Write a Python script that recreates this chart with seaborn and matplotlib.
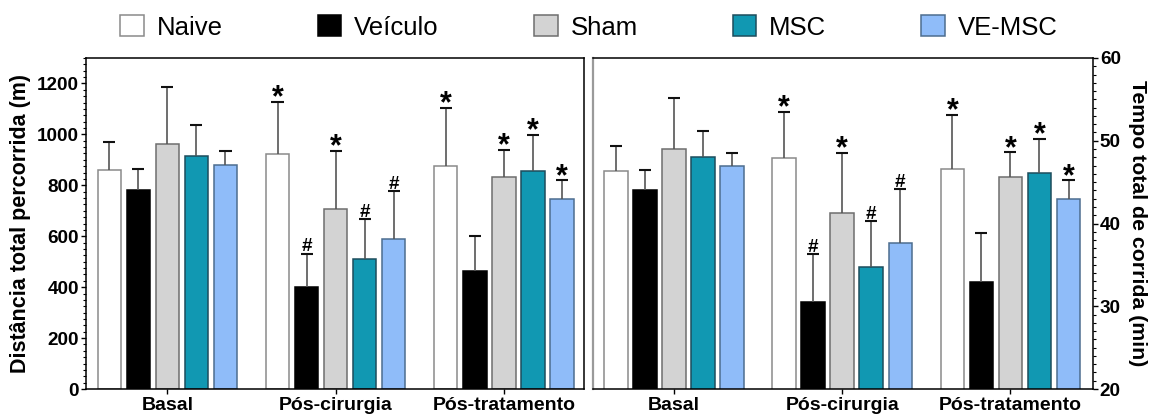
import numpy as np
import pandas as pd
import matplotlib
matplotlib.use("Agg")
import matplotlib.pyplot as plt
from matplotlib.patches import Patch
from matplotlib.ticker import MultipleLocator
import seaborn as sns

# ---- data -------------------------------------------------------------
phases = ["Basal", "Pós-cirurgia", "Pós-tratamento"]
groups = ["Naive", "Veículo", "Sham", "MSC", "VE-MSC"]

# total distance run (m): mean and SD per group, one value per phase
dist_naive = [859, 922, 876]
dist_veiculo = [782, 400, 463]
dist_sham = [964, 708, 832]
dist_msc = [917, 510, 856]
dist_vemsc = [878, 591, 746]

dist_sd_naive = [113, 204, 227]
dist_sd_veiculo = [81, 132, 137]
dist_sd_sham = [221, 226, 106]
dist_sd_msc = [118, 157, 143]
dist_sd_vemsc = [56, 185, 73]

# total running time (min): mean and SD
time_naive = [46.3, 47.9, 46.6]
time_veiculo = [44.1, 30.5, 32.9]
time_sham = [49.0, 41.3, 45.6]
time_msc = [48.0, 34.8, 46.1]
time_vemsc = [46.9, 37.7, 43.0]

time_sd_naive = [3.1, 5.6, 6.5]
time_sd_veiculo = [2.4, 5.8, 6.0]
time_sd_sham = [6.2, 7.2, 3.0]
time_sd_msc = [3.2, 5.5, 4.1]
time_sd_vemsc = [1.6, 6.5, 2.2]

# significance marks (* vs Veículo, # vs Naive)
sig_naive = ["", "*", "*"]
sig_veiculo = ["", "#", ""]
sig_sham = ["", "*", "*"]
sig_msc = ["", "#", "*"]
sig_vemsc = ["", "#", "*"]

dist_means = [dist_naive, dist_veiculo, dist_sham, dist_msc, dist_vemsc]
dist_sds = [dist_sd_naive, dist_sd_veiculo, dist_sd_sham, dist_sd_msc, dist_sd_vemsc]
time_means = [time_naive, time_veiculo, time_sham, time_msc, time_vemsc]
time_sds = [time_sd_naive, time_sd_veiculo, time_sd_sham, time_sd_msc, time_sd_vemsc]
sigs = [sig_naive, sig_veiculo, sig_sham, sig_msc, sig_vemsc]

face_colors = ["#ffffff", "#000000", "#d3d3d3", "#1198b2", "#8fbcf9"]
edge_colors = ["#8a8a8a", "#000000", "#6e6e6e", "#1d4d5c", "#4d6d8f"]


def long_table(means, sds):
    rows = []
    for g, m_list, s_list, s_marks in zip(groups, means, sds, sigs):
        for p, m, s, mk in zip(phases, m_list, s_list, s_marks):
            rows.append({"phase": p, "group": g, "value": m, "sd": s, "mark": mk})
    return pd.DataFrame(rows)


# ---- style ------------------------------------------------------------
sns.set_theme(style="ticks")
plt.rcParams["font.family"] = ["Liberation Sans", "DejaVu Sans"]
plt.rcParams["font.weight"] = "bold"
plt.rcParams["text.color"] = "black"
plt.rcParams["axes.labelcolor"] = "black"
plt.rcParams["axes.linewidth"] = 1.1
plt.rcParams["axes.edgecolor"] = "black"
plt.rcParams["xtick.major.size"] = 3.6
plt.rcParams["ytick.major.size"] = 3.6
plt.rcParams["ytick.minor.size"] = 2.0
plt.rcParams["xtick.major.width"] = 1.0
plt.rcParams["ytick.major.width"] = 1.0
plt.rcParams["ytick.minor.width"] = 0.8
plt.rcParams["xtick.color"] = "black"
plt.rcParams["ytick.color"] = "black"
plt.rcParams["xtick.labelcolor"] = "black"
plt.rcParams["ytick.labelcolor"] = "black"

W, H = 1156, 418
fig = plt.figure(figsize=(W / 100, H / 100), dpi=100)
ax1 = fig.add_axes([86 / W, 1 - 389 / H, 498 / W, 331 / H])
ax2 = fig.add_axes([592.7 / W, 1 - 389 / H, 500 / W, 331 / H])


def draw_panel(ax, df, cap_half=0.036):
    sns.barplot(data=df, x="phase", y="value", hue="group", order=phases,
                hue_order=groups, palette=face_colors, saturation=1,
                width=0.863, gap=0.19, errorbar=None, legend=False, ax=ax,
                linewidth=1.1)
    # seaborn draws bars hue level by hue level
    k = 0
    for gi, g in enumerate(groups):
        for p in phases:
            bar = ax.patches[k]
            k += 1
            bar.set_edgecolor(edge_colors[gi])
            row = df[(df.group == g) & (df.phase == p)].iloc[0]
            xc = bar.get_x() + bar.get_width() / 2
            top = row.value + row.sd
            ax.vlines(xc, row.value, top, color="#555555", lw=1.2, zorder=1)
            ax.hlines(top, xc - cap_half, xc + cap_half, color="#111111", lw=1.5, zorder=3)
            if row.mark == "*":
                ax.annotate("*", xy=(xc, top), xytext=(0, -3.2), textcoords="offset points",
                            ha="center", va="baseline", fontsize=22, fontweight="bold",
                            color="black")
            elif row.mark == "#":
                ax.annotate("#", xy=(xc, top), xytext=(0, 1.6), textcoords="offset points",
                            ha="center", va="baseline", fontsize=13.5, fontweight="bold",
                            color="black")
    ax.set_xlabel("")
    ax.tick_params(axis="x", labelsize=14, pad=2)
    ax.tick_params(axis="y", which="both", labelsize=13.6, pad=1.5)
    for lab in ax.get_xticklabels() + ax.get_yticklabels():
        lab.set_fontweight("bold")


# left panel: distance
df_dist = long_table(dist_means, dist_sds)
draw_panel(ax1, df_dist)
ax1.set_ylim(0, 1300)
ax1.set_xlim(-0.484, 2.477)
ax1.yaxis.set_major_locator(MultipleLocator(200))
ax1.yaxis.set_minor_locator(MultipleLocator(25))
for s in ["top", "right", "left", "bottom"]:
    ax1.spines[s].set_visible(True)
ax1.set_ylabel("Distância total percorrida (m)", fontsize=15.5, fontweight="bold",
               va="bottom")
ax1.yaxis.set_label_coords(-0.111, 0.5)
for lab in ax1.get_yticklabels():
    lab.set_fontweight("bold")

# right panel: running time
df_time = long_table(time_means, time_sds)
draw_panel(ax2, df_time)
ax2.set_ylim(20, 60)
ax2.set_xlim(-0.483, 2.489)
ax2.yaxis.tick_right()
ax2.yaxis.set_label_position("right")
ax2.yaxis.set_major_locator(MultipleLocator(10))
ax2.yaxis.set_minor_locator(MultipleLocator(1))
for s in ["top", "right", "left", "bottom"]:
    ax2.spines[s].set_visible(True)
ax2.spines["left"].set_color("#9a9a9a")
ax2.spines["left"].set_linewidth(1.6)
ax2.set_ylabel("Tempo total de corrida (min)", fontsize=15.3, fontweight="bold",
               rotation=270, va="bottom")
ax2.yaxis.set_label_coords((1128 - 592.7) / 500, 0.5)
for lab in ax2.get_yticklabels():
    lab.set_fontweight("bold")

# legend across the top
handles = [Patch(facecolor=fc, edgecolor=ec, linewidth=1.1)
           for fc, ec in zip(face_colors, edge_colors)]
fig.legend(handles, groups, loc="center", bbox_to_anchor=(0.5095, 0.935), ncol=5,
           frameon=False, prop={"size": 18.5, "weight": "normal"},
           handlelength=0.92, handleheight=0.92, handletextpad=0.5,
           columnspacing=3.7, borderaxespad=0, borderpad=0)

fig.savefig("out.png", dpi=100)
